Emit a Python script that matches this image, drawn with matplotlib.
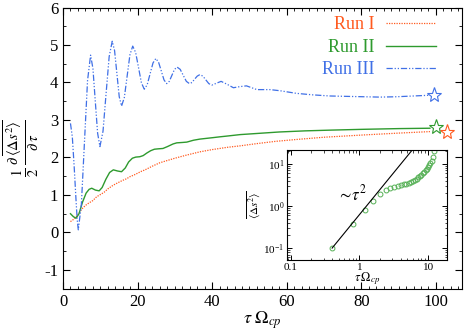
import numpy as np
import matplotlib
matplotlib.use('Agg')
import matplotlib.pyplot as plt
from matplotlib.ticker import MultipleLocator, FixedLocator, FixedFormatter, LogLocator, NullFormatter

plt.rcParams['font.family'] = 'serif'
plt.rcParams['font.serif'] = ['Liberation Serif', 'DejaVu Serif']
plt.rcParams['mathtext.fontset'] = 'stix'

# Run I (orange, dotted)
tau_1 = [2.0, 3.0, 4.0, 5.0, 6.0, 7.0, 8.0, 9.0, 10.0, 11.0, 12.0, 13.0, 14.0, 15.0, 16.0,
         17.0, 18.0, 19.0, 20.0, 21.0, 22.0, 23.0, 24.0, 26.0, 28.0, 30.0, 33.0, 36.7, 40.0,
         44.0, 47.5, 52.0, 57.0, 62.6, 70.0, 80.5, 90.0, 98.4]
run_1 = [0.29, 0.36, 0.48, 0.62, 0.72, 0.79, 0.85, 0.95, 1.01, 1.07, 1.16, 1.23, 1.29, 1.34, 1.39,
         1.43, 1.49, 1.53, 1.58, 1.63, 1.67, 1.72, 1.77, 1.86, 1.92, 1.98, 2.06, 2.15, 2.21,
         2.27, 2.31, 2.37, 2.43, 2.48, 2.54, 2.60, 2.65, 2.69]

# Run II (green, solid)
tau_2 = [2.0, 2.8, 3.5, 4.3, 5.2, 6.2, 7.0, 7.7, 8.7, 9.7, 10.5, 11.5, 12.5, 13.5, 14.6, 15.7,
         16.7, 17.6, 18.6, 19.5, 20.6, 21.5, 22.5, 23.5, 24.5, 25.5, 26.8, 28.0, 29.5, 30.5,
         32.0, 33.2, 35.0, 36.7, 38.5, 40.3, 42.0, 43.9, 47.5, 52.0, 58.0, 65.0, 72.0, 80.0,
         90.0, 98.4]
run_2 = [0.50, 0.42, 0.38, 0.50, 0.80, 1.05, 1.15, 1.18, 1.13, 1.11, 1.20, 1.42, 1.60, 1.67, 1.64, 1.62,
         1.72, 1.88, 1.98, 2.01, 2.02, 2.05, 2.12, 2.18, 2.22, 2.23, 2.24, 2.29, 2.36, 2.39,
         2.40, 2.41, 2.46, 2.49, 2.51, 2.53, 2.55, 2.57, 2.61, 2.64, 2.68, 2.71, 2.73, 2.75,
         2.77, 2.78]

# Run III (blue, dash-dot-dot)
tau_3 = [2.0, 2.5, 3.0, 3.5, 3.8, 4.1, 4.93, 5.75, 6.58, 7.4, 8.03, 8.65, 9.28, 9.9,
         10.73, 11.55, 12.38, 13.2, 13.83, 14.45, 15.08, 15.7, 16.45, 17.2, 17.95, 18.7,
         19.48, 20.25, 21.03, 21.8, 22.58, 23.35, 24.13, 24.9, 25.63, 26.35, 27.08, 27.8,
         28.5, 29.2, 29.9, 30.6, 31.43, 32.25, 33.08, 33.9, 34.6, 35.3, 36.0, 36.7,
         37.5, 38.3, 39.1, 39.9, 41.15, 42.4, 44.05, 45.7, 47.45, 49.2, 52.0, 55.5,
         58.2, 62.6, 67.0, 71.6, 76.0, 80.5, 85.0, 89.5, 94.0, 98.4]
run_3 = [2.91, 2.55, 1.75, 0.85, 0.35, 0.07, 0.75, 2.40, 4.05, 4.73, 4.37, 3.51, 2.65, 2.29,
         2.70, 3.70, 4.69, 5.10, 4.85, 4.24, 3.62, 3.37, 3.60, 4.17, 4.74, 4.97,
         4.80, 4.40, 3.99, 3.82, 3.94, 4.23, 4.52, 4.64, 4.54, 4.31, 4.07, 3.97,
         4.03, 4.19, 4.35, 4.41, 4.35, 4.19, 4.03, 3.97, 4.00, 4.09, 4.17, 4.21,
         4.17, 4.07, 3.97, 3.93, 3.98, 4.03, 3.95, 3.86, 3.89, 3.91, 3.81, 3.81,
         3.78, 3.71, 3.67, 3.64, 3.63, 3.62, 3.61, 3.62, 3.64, 3.66]

# end markers (stars)
star_tau = [103.1, 100.0, 99.6]
star_val = [2.69, 2.80, 3.66]

# inset: mean square displacement
ins_tau = [0.4, 0.8, 1.2, 1.6, 2.0, 2.4, 2.8, 3.2, 3.6, 4.0, 4.4, 4.8, 5.2, 5.6, 6.0,
           6.4, 6.8, 7.2, 7.6, 8.0, 8.4, 8.8, 9.2, 9.6, 10.0, 10.4, 10.8, 11.2, 11.6, 12.0]
ins_msd = [0.10, 0.37, 0.80, 1.31, 1.89, 2.45, 2.65, 2.85, 3.00, 3.12, 3.25, 3.40, 3.58, 3.78, 4.00,
           4.25, 4.50, 4.80, 5.15, 5.55, 6.00, 6.50, 7.05, 7.70, 8.50, 9.40, 10.5, 12.0, 15.0, 20.0]
fit_tau = np.array([0.4, 6.0])
fit_msd = 0.625 * fit_tau ** 2

c1, c2, c3 = '#ff5a1f', '#2e9a2e', '#4070e6'

fig = plt.figure(figsize=(4.69, 3.32), dpi=100)
ax = fig.add_axes([63 / 469, 1 - 288.7 / 332, 399 / 469, 281.2 / 332])

ax.plot(tau_1, run_1, color=c1, lw=0.9, ls=(0, (1, 1)), label='Run I')
ax.plot(tau_2, run_2, color=c2, lw=1.0, ls='-', label='Run II')
ax.plot(tau_3, run_3, color=c3, lw=0.9, ls=(0, (5, 1.5, 1, 1.5, 1, 1.5)), label='Run III')
for t, v, c in zip(star_tau, star_val, [c1, c2, c3]):
    ax.plot(t, v, marker='*', ms=11, mfc='none', mec=c, mew=0.8, ls='none')

ax.set_xlim(0, 107)
ax.set_ylim(-1.5, 6)
ax.xaxis.set_major_locator(MultipleLocator(20))
ax.xaxis.set_minor_locator(MultipleLocator(2))
ax.yaxis.set_major_locator(MultipleLocator(1))
ax.yaxis.set_minor_locator(MultipleLocator(0.5))
ax.tick_params(which='both', direction='in', top=True, right=True, labelsize=12)
ax.tick_params(which='major', length=5, width=0.8)
ax.tick_params(which='minor', length=2.5, width=0.6)
ax.set_yticks([-1, 0, 1, 2, 3, 4, 5, 6])
ax.set_yticklabels(['-1', '0', '1', '2', '3', '4', '5', '6'])
ax.set_xlabel(r'$\tau\ \Omega_{cp}$', fontsize=13, labelpad=0)
ax.set_ylabel(r'$\frac{1}{2}\,\frac{\partial\,\overline{\langle\Delta s^2\rangle}}{\partial\,\tau}$',
              fontsize=15, labelpad=2)

ax.legend(loc='upper right', bbox_to_anchor=(0.935, 0.968), frameon=False, markerfirst=False,
          labelcolor='linecolor', handlelength=2.8, fontsize=13, labelspacing=0.3,
          handletextpad=0.6, borderaxespad=0, borderpad=0)

# inset
axi = fig.add_axes([287.3 / 469, 1 - 260 / 332, 160 / 469, 110 / 332])
axi.loglog(ins_tau, ins_msd, ls='none', marker='o', ms=3.5, mfc='none', mec='#55b055', mew=0.7)
axi.loglog(fit_tau, fit_msd, color='black', lw=0.8)
axi.text(0.78, 1.9, r'$\sim\!\tau^2$', fontsize=12, ha='center', va='center')
axi.set_xlim(0.089, 19)
axi.set_ylim(0.052, 21.5)
axi.xaxis.set_major_locator(FixedLocator([0.1, 1, 10]))
axi.xaxis.set_major_formatter(FixedFormatter(['0.1', '1', '10']))
axi.xaxis.set_minor_locator(LogLocator(base=10, subs=np.arange(2, 10)))
axi.xaxis.set_minor_formatter(NullFormatter())
axi.yaxis.set_minor_locator(LogLocator(base=10, subs=np.arange(2, 10)))
axi.yaxis.set_minor_formatter(NullFormatter())
axi.tick_params(which='both', direction='in', top=True, right=True, labelsize=8, pad=2)
axi.tick_params(which='major', length=3.5, width=0.7)
axi.tick_params(which='minor', length=1.8, width=0.5)
axi.set_xlabel(r'$\tau\,\Omega_{cp}$', fontsize=9, labelpad=-1)
axi.set_ylabel(r'$\overline{\langle\Delta s^2\rangle}$', fontsize=8, labelpad=1)

fig.savefig('out.png', dpi=100)
